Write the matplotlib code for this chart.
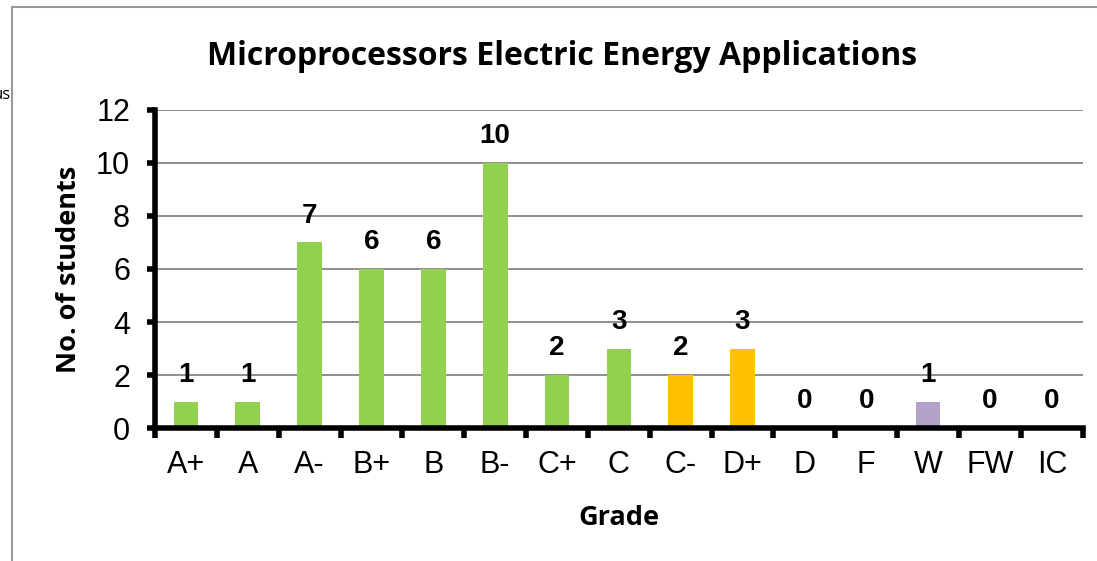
import numpy as np
import matplotlib.pyplot as plt
from matplotlib.lines import Line2D

# Data
grades = ['A+', 'A', 'A-', 'B+', 'B', 'B-', 'C+', 'C', 'C-', 'D+', 'D', 'F', 'W', 'FW', 'IC']
students = [1, 1, 7, 6, 6, 10, 2, 3, 2, 3, 0, 0, 1, 0, 0]
bar_colors = ['#92D050'] * 8 + ['#FFC000'] * 2 + ['#92D050'] * 2 + ['#B3A2C7'] + ['#92D050'] * 2

fig = plt.figure(figsize=(10.97, 5.61), dpi=100)
ax = fig.add_axes([0.1413, 0.237, 0.9870 - 0.1413, 0.567])

x = np.arange(len(grades))
ax.bar(x, students, width=0.4, color=bar_colors, zorder=3)

for xi, v in zip(x, students):
    ax.annotate(str(v), (xi, v), xytext=(0, 10), textcoords='offset points',
                ha='center', va='bottom', fontsize=20, fontweight='bold',
                family='Liberation Sans')

ax.set_xlim(-0.5, len(grades) - 0.5)
ax.set_ylim(0, 12)
ax.set_yticks(range(0, 13, 2))
ax.set_xticks(x)
ax.set_xticklabels(grades)
ax.set_xticks(np.arange(-0.5, len(grades), 1), minor=True)

ax.grid(axis='y', color='#868686', linewidth=1.3, zorder=0)
ax.set_axisbelow(True)

for s in ['top', 'right']:
    ax.spines[s].set_visible(False)
for s in ['left', 'bottom']:
    ax.spines[s].set_linewidth(4)
    ax.spines[s].set_zorder(4)

ax.tick_params(axis='y', length=6, width=4, labelsize=22, pad=12)
ax.tick_params(axis='x', which='major', length=0, labelsize=22, pad=16)
ax.tick_params(axis='x', which='minor', length=7, width=4, direction='out')
for lbl in ax.get_xticklabels() + ax.get_yticklabels():
    lbl.set_family('Liberation Sans')

ax.set_xlabel('Grade', fontsize=19.5, fontweight='bold', family='Open Sans', labelpad=18)
ax.set_ylabel('No. of students', fontsize=19.5, fontweight='bold', family='Open Sans', labelpad=10)
fig.text(0.512, 0.9, 'Microprocessors Electric Energy Applications', ha='center', va='center',
         fontsize=23, fontweight='bold', family='Open Sans')

# outer frame of the surrounding document
fig.add_artist(Line2D([12 / 1097, 12 / 1097], [0, 1 - 7 / 561], color='#999999', linewidth=1.5))
fig.add_artist(Line2D([12 / 1097, 1], [1 - 7 / 561, 1 - 7 / 561], color='#999999', linewidth=1.5))
fig.text(11 / 1097, 1 - 95 / 561, 'us', ha='right', va='center', fontsize=12, family='Open Sans')

fig.savefig('out.png', dpi=100)
